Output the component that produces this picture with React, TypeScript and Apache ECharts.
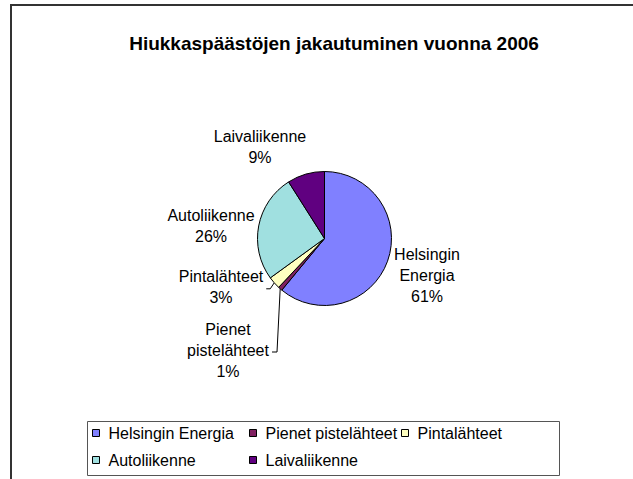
import React, { useEffect, useRef } from "react";
import * as echarts from "echarts";

const TITLE = "Hiukkaspäästöjen jakautuminen vuonna 2006";
const categories = [
  "Helsingin Energia",
  "Pienet pistelähteet",
  "Pintalähteet",
  "Autoliikenne",
  "Laivaliikenne",
];
const labelNames = [
  "Helsingin\nEnergia",
  "Pienet\npistelähteet",
  "Pintalähteet",
  "Autoliikenne",
  "Laivaliikenne",
];
const values = [61, 1, 3, 26, 9];

const COLORS = ["#8080FF", "#802060", "#FFFFC0", "#A0E0E0", "#600080"];
const CX = 324.5;
const CY = 238.5;
const R = 67;
// label block centres, relative to the pie centre
const LABEL_POS: [number, number][] = [
  [102.5, 36.5],
  [-96.5, 111.5],
  [-103.5, 48.5],
  [-113.5, -13],
  [-64.5, -92],
];

export default function App() {
  const ref = useRef<HTMLDivElement>(null);
  useEffect(() => {
    if (!ref.current) return;
    const chart = echarts.init(ref.current, null, { renderer: "svg" });
    const font = "'Liberation Sans', Arial, sans-serif";
    chart.setOption({
      animation: false,
      backgroundColor: "#ffffff",
      title: {
        text: TITLE,
        left: 329,
        textAlign: "center",
        top: 29,
        textStyle: { fontFamily: font, fontSize: 19, fontWeight: "bold", color: "#000" },
      },
      graphic: [
        {
          type: "rect",
          shape: { x: 11, y: 5, width: 700, height: 600 },
          style: { fill: "none", stroke: "#333", lineWidth: 2 },
          silent: true,
        },
        {
          type: "rect",
          shape: { x: 87.5, y: 421.5, width: 472, height: 54 },
          style: { fill: "#fff", stroke: "#555", lineWidth: 1 },
          silent: true,
          z: -1,
        },
      ],
      legend: [
        [categories[0], categories[3]],
        [categories[1], categories[4]],
        [categories[2]],
      ].map((d, i) => ({
        data: d,
        orient: "vertical",
        left: [92, 249, 401][i],
        top: 425,
        itemGap: 11,
        itemWidth: 7,
        itemHeight: 7,
        icon: "rect",
        padding: 0,
        selectedMode: false,
        itemStyle: { borderColor: "#000", borderWidth: 1 },
        textStyle: { fontFamily: font, fontSize: 16, color: "#000", padding: [0, 0, 0, 4] },
      })),
      series: [
        {
          type: "pie",
          center: [CX, CY],
          radius: R,
          startAngle: 90,
          clockwise: true,
          data: categories.map((c, i) => ({
            name: c,
            value: values[i],
            itemStyle: { color: COLORS[i] },
            labelLine: { show: i === 1 || i === 2 },
          })),
          itemStyle: { borderColor: "#000", borderWidth: 1 },
          label: {
            show: true,
            position: "outside",
            formatter: (p: any) => `${labelNames[p.dataIndex]}\n${Math.round(p.percent)}%`,
            fontFamily: font,
            fontSize: 16,
            lineHeight: 21,
            color: "#000",
            align: "center",
          },
          labelLine: {
            show: true,
            lineStyle: { color: "#000", width: 1 },
          },
          labelLayout: (params: any) => {
            const i = params.dataIndex;
            const [dx, dy] = LABEL_POS[i];
            const res: any = {
              x: CX + dx,
              y: CY + dy,
              align: "center",
              verticalAlign: "middle",
              hideOverlap: false,
            };
            const p0 = params.labelLinePoints ? params.labelLinePoints[0] : [CX, CY];
            if (i === 1) {
              res.labelLinePoints = [p0, [CX - 47.5, CY + 113.5], [CX - 52.5, CY + 113.5]];
            } else if (i === 2) {
              res.labelLinePoints = [p0, [p0[0] - 4, p0[1] + 6], [p0[0] - 8, p0[1] + 6]];
            }
            return res;
          },
        },
      ],
    });
    return () => chart.dispose();
  }, []);
  return (
    <div
      ref={ref}
      style={{ position: "fixed", left: 0, top: 0, width: 633, height: 479, background: "#fff" }}
    />
  );
}
